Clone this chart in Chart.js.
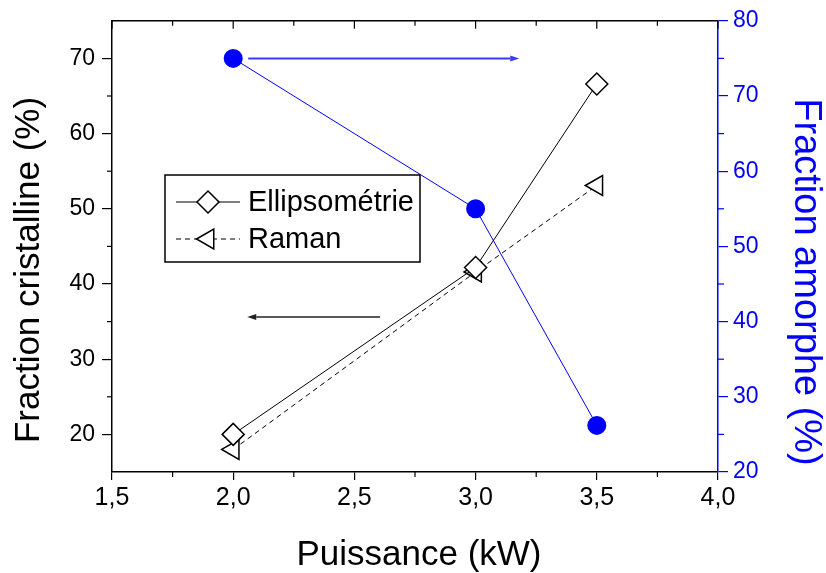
<!DOCTYPE html>
<html><head><meta charset="utf-8">
<script src="https://cdn.jsdelivr.net/npm/chart.js@4.4.0/dist/chart.umd.min.js"></script>
<style>html,body{margin:0;padding:0;background:#fff}#wrap{width:826px;height:573px}</style>
</head><body><div id="wrap"><canvas id="c" width="826" height="573"></canvas></div>
<script>
// ---- data ----
const puissance = [2.0, 3.0, 3.5];
const ellipsometrie = [20, 42.2, 66.6];
const raman = [18, 41.6, 53.1];
const amorphe = [75, 55, 26.2];
const xTicks = [1.5, 2.0, 2.5, 3.0, 3.5, 4.0];
const leftTicks = [20, 30, 40, 50, 60, 70];
const rightTicks = [20, 30, 40, 50, 60, 70, 80];
const seriesNames = ['Ellipsométrie', 'Raman', 'Fraction amorphe'];
const xTitle = 'Puissance (kW)';
const leftTitle = 'Fraction cristalline (%)';
const rightTitle = 'Fraction amorphe (%)';

const FONT = '"Liberation Sans", Arial, Helvetica, sans-serif';
const BLUE = '#0000ff';
Chart.defaults.font.family = FONT;

const pts = (ys) => puissance.map((x, i) => ({x, y: ys[i]}));
const mids = (arr) => { const m = []; for (let i = 0; i < arr.length - 1; i++) m.push((arr[i] + arr[i+1]) / 2); return m; };

function arrow(ctx, x1, y1, x2, y2, color, lw, hl, hw) {
  ctx.save();
  ctx.strokeStyle = color; ctx.fillStyle = color; ctx.lineWidth = lw;
  const ang = Math.atan2(y2 - y1, x2 - x1);
  const bx = x2 - Math.cos(ang) * hl, by = y2 - Math.sin(ang) * hl;
  ctx.beginPath(); ctx.moveTo(x1, y1); ctx.lineTo(bx, by); ctx.stroke();
  ctx.beginPath();
  ctx.moveTo(x2, y2);
  ctx.lineTo(bx + Math.sin(ang) * hw, by - Math.cos(ang) * hw);
  ctx.lineTo(bx - Math.sin(ang) * hw, by + Math.cos(ang) * hw);
  ctx.closePath(); ctx.fill();
  ctx.restore();
}

const decor = {
  id: 'decor',
  afterDraw(chart) {
    const {ctx, chartArea: a, scales} = chart;
    const x = scales.x, yl = scales.y, yr = scales.y1;
    ctx.save();
    // top axis line with inward ticks
    ctx.strokeStyle = '#000'; ctx.lineWidth = 1.5;
    ctx.beginPath(); ctx.moveTo(a.left, a.top); ctx.lineTo(a.right, a.top); ctx.stroke();
    ctx.lineWidth = 1.2;
    xTicks.forEach(v => { const px = x.getPixelForValue(v); ctx.beginPath(); ctx.moveTo(px, a.top); ctx.lineTo(px, a.top + 8); ctx.stroke(); });
    mids(xTicks).forEach(v => {
      const px = x.getPixelForValue(v);
      ctx.beginPath(); ctx.moveTo(px, a.top); ctx.lineTo(px, a.top + 5); ctx.stroke();
      ctx.beginPath(); ctx.moveTo(px, a.bottom); ctx.lineTo(px, a.bottom + 5); ctx.stroke();
    });
    mids(leftTicks).forEach(v => { const py = yl.getPixelForValue(v); ctx.beginPath(); ctx.moveTo(a.left, py); ctx.lineTo(a.left - 5, py); ctx.stroke(); });
    ctx.strokeStyle = BLUE;
    mids(rightTicks).forEach(v => { const py = yr.getPixelForValue(v); ctx.beginPath(); ctx.moveTo(a.right, py); ctx.lineTo(a.right + 6, py); ctx.stroke(); });

    // arrows (in data coordinates)
    arrow(ctx, x.getPixelForValue(2.062), yr.getPixelForValue(75), x.getPixelForValue(3.18), yr.getPixelForValue(75), '#3a3aff', 2, 9, 3);
    arrow(ctx, x.getPixelForValue(2.606), yl.getPixelForValue(35.6), x.getPixelForValue(2.058), yl.getPixelForValue(35.6), '#222', 1.5, 9, 3);

    // axis titles
    ctx.fillStyle = '#000';
    ctx.textAlign = 'center'; ctx.textBaseline = 'alphabetic';
    ctx.font = '35px ' + FONT;
    ctx.fillText(xTitle, 419, 565);
    ctx.save(); ctx.translate(39, 270); ctx.rotate(-Math.PI / 2); ctx.fillText(leftTitle, 0, 0); ctx.restore();
    ctx.fillStyle = BLUE; ctx.font = '38px ' + FONT;
    ctx.save(); ctx.translate(795, 282); ctx.rotate(Math.PI / 2); ctx.fillText(rightTitle, 0, 0); ctx.restore();

    // legend box
    const L = 165, T = 175, R = 420, B = 262;
    ctx.fillStyle = '#fff'; ctx.fillRect(L, T, R - L, B - T);
    ctx.strokeStyle = '#000'; ctx.lineWidth = 1.5; ctx.strokeRect(L, T, R - L, B - T);
    const rows = [{y: 202, ds: chart.data.datasets[0]}, {y: 239, ds: chart.data.datasets[1]}];
    rows.forEach(r => {
      ctx.save();
      ctx.strokeStyle = '#000'; ctx.lineWidth = 1;
      ctx.setLineDash(r.ds.borderDash || []);
      ctx.beginPath(); ctx.moveTo(176, r.y); ctx.lineTo(240, r.y); ctx.stroke();
      ctx.setLineDash([]);
      ctx.fillStyle = '#fff'; ctx.strokeStyle = '#000'; ctx.lineWidth = 1.5;
      Chart.helpers.drawPoint(ctx, {pointStyle: r.ds.pointStyle, radius: r.ds.pointRadius, rotation: r.ds.pointRotation || 0, borderWidth: 1.5}, 208, r.y);
      ctx.restore();
      ctx.fillStyle = '#000'; ctx.font = '29px ' + FONT; ctx.textAlign = 'left'; ctx.textBaseline = 'middle';
      ctx.fillText(r.ds.label, 248, r.y + 1);
    });
    ctx.restore();
  }
};

new Chart(document.getElementById('c'), {
  type: 'line',
  data: {
    datasets: [
      {label: seriesNames[0], data: pts(ellipsometrie), yAxisID: 'y', borderColor: '#000', borderWidth: 1,
       pointStyle: 'rectRot', pointRadius: 11, pointBackgroundColor: '#fff', pointBorderColor: '#000', pointBorderWidth: 1.5, order: 1},
      {label: seriesNames[1], data: pts(raman), yAxisID: 'y', borderColor: '#000', borderWidth: 1, borderDash: [5, 4],
       pointStyle: 'triangle', pointRotation: -90, pointRadius: 11.5, pointBackgroundColor: '#fff', pointBorderColor: '#000', pointBorderWidth: 1.5, order: 2},
      {label: seriesNames[2], data: pts(amorphe), yAxisID: 'y1', borderColor: BLUE, borderWidth: 1,
       pointStyle: 'circle', pointRadius: 9.5, pointBackgroundColor: BLUE, pointBorderColor: BLUE, pointBorderWidth: 0, order: 3}
    ]
  },
  options: {
    responsive: false, animation: false, devicePixelRatio: 1,
    layout: {padding: {top: 20, left: 0, right: 0, bottom: 0}},
    plugins: {legend: {display: false}, tooltip: {enabled: false}},
    scales: {
      x: {type: 'linear', position: 'bottom', min: 1.5, max: 4.0,
        afterBuildTicks: s => { s.ticks = xTicks.map(v => ({value: v})); },
        afterFit: s => { s.height = 101; },
        ticks: {color: '#000', font: {size: 25}, padding: 3, maxRotation: 0, callback: v => v.toFixed(1).replace('.', ',')},
        grid: {drawOnChartArea: false, drawTicks: true, tickLength: 8, color: '#000', lineWidth: 1.2},
        border: {display: true, color: '#000', width: 1.5}},
      y: {type: 'linear', position: 'left', min: 15, max: 75,
        afterBuildTicks: s => { s.ticks = leftTicks.map(v => ({value: v})); },
        afterFit: s => { s.width = 112; },
        ticks: {color: '#000', font: {size: 23}, padding: 7},
        grid: {drawOnChartArea: false, drawTicks: true, tickLength: 10, color: '#000', lineWidth: 1.2},
        border: {display: true, color: '#000', width: 1.5}},
      y1: {type: 'linear', position: 'right', min: 20, max: 80,
        afterBuildTicks: s => { s.ticks = rightTicks.map(v => ({value: v})); },
        afterFit: s => { s.width = 108; },
        ticks: {color: BLUE, font: {size: 23}, padding: 5},
        grid: {drawOnChartArea: false, drawTicks: true, tickLength: 10, color: BLUE, lineWidth: 1.2},
        border: {display: true, color: BLUE, width: 1.5}}
    }
  },
  plugins: [decor]
});
</script>
</body></html>
